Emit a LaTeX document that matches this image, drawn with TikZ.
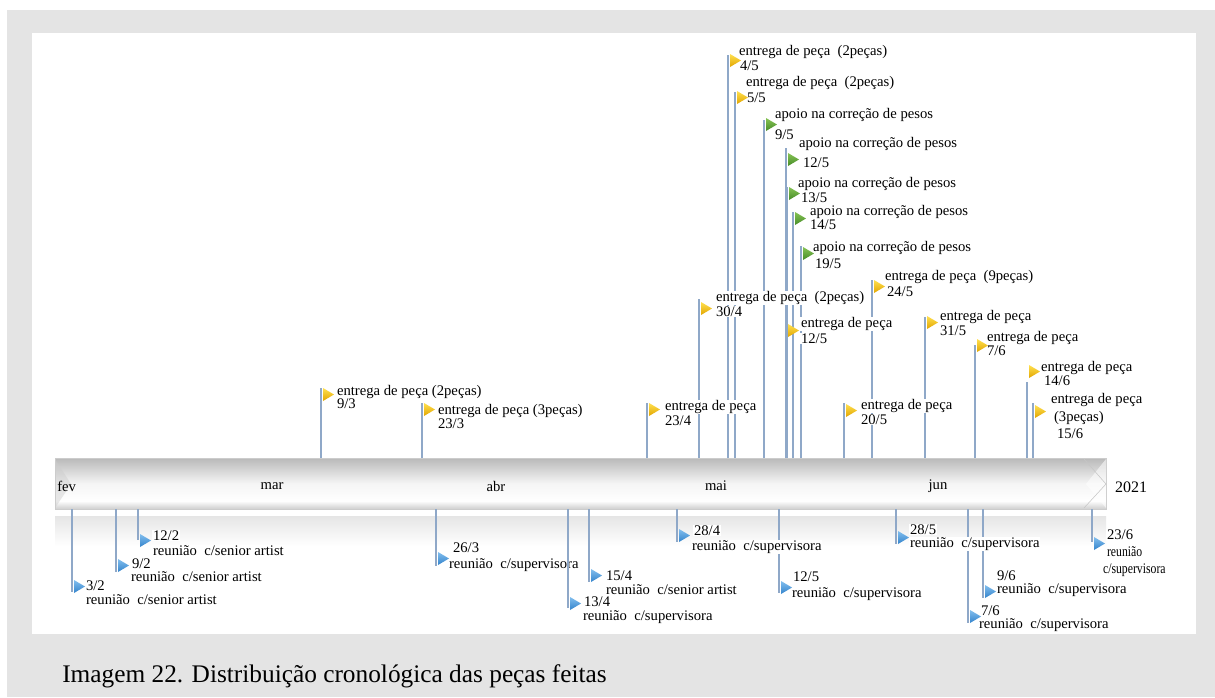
\documentclass[tikz,border=0pt]{standalone}
\usepackage{fontspec}
\usepackage{graphicx}
\setmainfont{Liberation Serif}
\definecolor{bgc}{RGB}{228,228,228}
\definecolor{connc}{RGB}{143,168,200}
\definecolor{yA}{RGB}{255,224,80}
\definecolor{yB}{RGB}{226,166,0}
\definecolor{gA}{RGB}{135,195,85}
\definecolor{gB}{RGB}{70,140,40}
\definecolor{bA}{RGB}{130,190,238}
\definecolor{bB}{RGB}{52,132,204}
\pgfdeclareverticalshading{barshade}{100bp}{color(0bp)=(gray!38); color(25bp)=(gray!38); color(33bp)=(white); color(50bp)=(gray!8); color(75bp)=(gray!55); color(100bp)=(gray!55)}
\begin{document}
\begin{tikzpicture}[x=0.75pt,y=-0.75pt,
  conn/.style={draw=connc, line width=1.1pt},
  lab/.style={anchor=west, fill=white, inner xsep=0.6pt, inner ysep=0.3pt,
    font=\fontsize{11}{13}\selectfont, text height=7.6pt, text depth=2.6pt},
  dlab/.style={lab, text depth=0.3pt, yshift=1.15pt},
  mon/.style={font=\fontsize{11}{13}\selectfont, inner sep=0pt},
  flagY/.style={top color=yA, bottom color=yB},
  flagG/.style={top color=gA, bottom color=gB},
  flagB/.style={top color=bA, bottom color=bB}]
\useasboundingbox (0,0) rectangle (1215,697);
\fill[bgc] (7,10) rectangle (1215,697);
\fill[white] (32,33) rectangle (1196,634);
% reflection band
\shade[top color=gray!20, bottom color=white] (55,516) rectangle (1106,546);
% timeline bar
\path[shading=barshade, draw=gray!40, line width=0.5pt] (55,458) rectangle (1106,509);
\fill[gray!40, opacity=0.45] (55,459) -- (71,484) -- (55,508) -- cycle;
\fill[white, opacity=0.55] (1106,459) -- (1086,484) -- (1106,508) -- cycle;
\draw[gray!45, line width=0.4pt] (1084,459) -- (1106,484) -- (1084,508);
% month labels
\node[mon, anchor=west] (mfev) at (57,486) {fev};
\node[mon] (mmar) at (272,486) {mar};
\node[mon] (mabr) at (496,486) {abr};
\node[mon] (mmai) at (716,486) {mai};
\node[mon] (mjun) at (938,486) {jun};
\node[font=\fontsize{12}{14}\selectfont, inner sep=0pt] (yr) at (1131,487) {2021};
% connectors above the bar
\foreach \n/\x/\y in {t93/321/388, t233/422/403, t234/647/403, t304/699/299,
  t45/728/55, t55/735/92, t95/764/120, t125g/786/148, t135/787/187, t145/793/212,
  t195/801/246, t245/872/280, t125y/786/325, t315/925/317, t76/975/345,
  t146/1027/382, t205/844/403, t156/1033/403}{
  \coordinate (\n-b) at (\x,458);
  \coordinate (\n-t) at (\x,\y);
  \draw[conn] (\n-b) -- (\n-t);
}
% connectors below the bar
\foreach \n/\x/\y in {b32/72/592, b92/116/572, b122/138/540, b263/436/566,
  b154/589/582, b284/677/542, b125/779/593, b285/896/544,
  b76/968/623, b96/983/598, b236/1092/542}{
  \coordinate (\n-b) at (\x,509);
  \coordinate (\n-t) at (\x,\y);
  \draw[conn] (\n-b) -- (\n-t);
}
% labels above
\node[lab] (t93-l) at (336,392) {entrega de peça (2peças)};
\node[dlab] (t93-d) at (336,405) {9/3};
\node[lab] (t233-l) at (437,411) {entrega de peça (3peças)};
\node[dlab] (t233-d) at (437,425) {23/3};
\node[lab] (t234-l) at (664,407) {entrega de peça};
\node[dlab] (t234-d) at (664,422) {23/4};
\node[lab] (t304-l) at (715,298) {entrega de peça\ \ (2peças)};
\node[dlab] (t304-d) at (715,313) {30/4};
\node[lab] (t45-l) at (738,52) {entrega de peça\ \ (2peças)};
\node[dlab] (t45-d) at (739,67) {4/5};
\node[lab] (t55-l) at (745,83) {entrega de peça\ \ (2peças)};
\node[dlab] (t55-d) at (746,99) {5/5};
\node[lab] (t95-l) at (774,115) {apoio na correção de pesos};
\node[dlab] (t95-d) at (774,136) {9/5};
\node[lab] (t125g-l) at (798,144) {apoio na correção de pesos};
\node[dlab] (t125g-d) at (802,164) {12/5};
\node[lab] (t135-l) at (797,184) {apoio na correção de pesos};
\node[dlab] (t135-d) at (800,199) {13/5};
\node[lab] (t145-l) at (809,212) {apoio na correção de pesos};
\node[dlab] (t145-d) at (809,226) {14/5};
\node[lab] (t195-l) at (812,248) {apoio na correção de pesos};
\node[dlab] (t195-d) at (814,265) {19/5};
\node[lab] (t245-l) at (884,277) {entrega de peça\ \ (9peças)};
\node[dlab] (t245-d) at (886,293) {24/5};
\node[lab] (t125y-l) at (800,324) {entrega de peça};
\node[dlab] (t125y-d) at (800,340) {12/5};
\node[lab] (t315-l) at (939,317) {entrega de peça};
\node[dlab] (t315-d) at (939,332) {31/5};
\node[lab] (t76-l) at (986,338) {entrega de peça};
\node[dlab] (t76-d) at (986,352) {7/6};
\node[lab] (t146-l) at (1040,368) {entrega de peça};
\node[dlab] (t146-d) at (1043,382) {14/6};
\node[lab] (t205-l) at (860,406) {entrega de peça};
\node[dlab] (t205-d) at (860,421) {20/5};
\node[lab] (t156-l) at (1050,400) {entrega de peça};
\node[lab] (t156-l2) at (1053,418) {(3peças)};
\node[dlab] (t156-d) at (1056,435) {15/6};
% labels below
\node[dlab] (b32-d) at (85,587) {3/2};
\node[lab] (b32-l) at (85,601) {reunião\ \ c/senior artist};
\node[dlab] (b92-d) at (131,565) {9/2};
\node[lab] (b92-l) at (130,578) {reunião\ \ c/senior artist};
\node[dlab] (b122-d) at (152,537) {12/2};
\node[lab] (b122-l) at (152,552) {reunião\ \ c/senior artist};
\node[dlab] (b263-d) at (452,549) {26/3};
\node[lab] (b263-l) at (448,565) {reunião\ \ c/supervisora};
\node[dlab] (b154-d) at (605,577) {15/4};
\node[lab] (b154-l) at (605,591) {reunião\ \ c/senior artist};
\node[dlab] (b284-d) at (693,532) {28/4};
\node[lab] (b284-l) at (691,547) {reunião\ \ c/supervisora};
\node[dlab] (b125-d) at (792,578) {12/5};
\node[lab] (b125-l) at (791,594) {reunião\ \ c/supervisora};
\node[dlab] (b285-d) at (909,531) {28/5};
\node[lab] (b285-l) at (909,544) {reunião\ \ c/supervisora};
\node[dlab] (b76-d) at (980,612) {7/6};
\node[lab] (b76-l) at (978,625) {reunião\ \ c/supervisora};
\node[dlab] (b96-d) at (996,577) {9/6};
\node[lab] (b96-l) at (996,590) {reunião\ \ c/supervisora};
\node[dlab] (b236-d) at (1106,536) {23/6};
\node[lab] (b236-l) at (1106,553) {\scalebox{0.8}[1]{reunião}};
\node[lab] (b236-l2) at (1102,570) {\scalebox{0.8}[1]{c/supervisora}};
% 13/4 (drawn over the neighbouring label)
\coordinate (b134-b) at (568,509);
\coordinate (b134-t) at (568,608);
\draw[conn] (b134-b) -- (b134-t);
\node[dlab] (b134-d) at (583,603) {13/4};
\node[lab] (b134-l) at (582,617) {reunião\ \ c/supervisora};
% flags
\foreach \x/\y/\s in {321/388/flagY, 422/403/flagY, 647/403/flagY, 699/302/flagY,
  728/54/flagY, 735/91/flagY, 764/118/flagG, 786/153/flagG, 787/187/flagG,
  793/212/flagG, 801/247/flagG, 872/280/flagY, 786/324/flagY, 925/316/flagY,
  975/339/flagY, 1027/365/flagY, 844/404/flagY, 1033/405/flagY,
  72/580/flagB, 116/559/flagB, 138/534/flagB, 436/552/flagB, 568/597/flagB,
  589/569/flagB, 677/529/flagB, 779/581/flagB, 896/531/flagB, 968/610/flagB,
  983/585/flagB, 1092/537/flagB}{
  \path[\s] (\x+2,\y) -- ++(11,6.5) -- ++(-11,6.5) -- cycle;
}
% caption
\node[anchor=west, inner sep=0pt, font=\fontsize{19}{22}\selectfont] (cap) at (62,676) {Imagem 22. Distribuição cronológica das peças feitas};
\end{tikzpicture}
\end{document}
